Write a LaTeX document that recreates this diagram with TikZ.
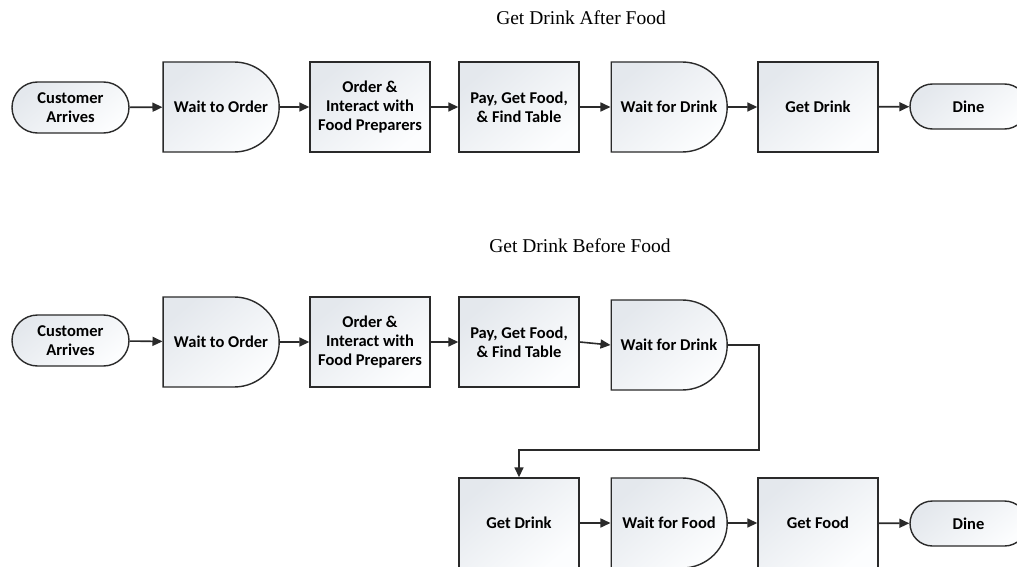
\documentclass[tikz,border=0pt]{standalone}
\usepackage{fontspec}
\setmainfont{Liberation Serif}
\newfontfamily\boxfont{Carlito}
\usepackage{tikz}
\usetikzlibrary{shapes,arrows,arrows.meta,calc}

\definecolor{linegray}{HTML}{2A2A2A}
\definecolor{fillgray}{HTML}{E4E8ED}
\definecolor{fillwhite}{HTML}{FCFDFE}

\tikzset{
  flowbox/.style={rectangle, draw=linegray, line width=1.4pt, top color=fillgray, bottom color=fillwhite, shading angle=40, minimum width=120pt, minimum height=90pt, inner sep=2pt, align=center, text=black, font=\boxfont\bfseries\fontsize{16.5}{19}\selectfont},
  waitbox/.style={flowbox, rounded rectangle, rounded rectangle left arc=none},
  endbox/.style={flowbox, rounded rectangle, minimum width=121pt, minimum height=45pt},
  flowarrow/.style={draw=linegray, line width=1.6pt, -{Triangle[length=10pt,width=9pt]}},
  titletext/.style={anchor=base, font=\fontsize{19.5}{22}\selectfont}
}

\begin{document}
\begin{tikzpicture}[x=1pt, y=-1pt]
\useasboundingbox (0,0) rectangle (1017,567);

\node [titletext] (title1) at (581,25) {Get Drink After Food};
\node [titletext] (title2) at (580,252) {Get Drink Before Food};

\node [endbox, minimum height=51pt] (arrive1) at (70.5,107.5) {Customer\\Arrives};
\node [waitbox] (waitorder1) at (221,107) {Wait to Order};
\node [flowbox] (order1) at (370,107) {Order \&\\Interact with\\Food Preparers};
\node [flowbox] (pay1) at (519,107) {Pay, Get Food,\\\& Find Table};
\node [waitbox] (waitdrink1) at (669,107) {Wait for Drink};
\node [flowbox] (drink1) at (818,107) {Get Drink};
\node [endbox] (dine1) at (968.5,106.5) {Dine};

\draw [flowarrow] (arrive1) -- (waitorder1);
\draw [flowarrow] (waitorder1) -- (order1);
\draw [flowarrow] (order1) -- (pay1);
\draw [flowarrow] (pay1) -- (waitdrink1);
\draw [flowarrow] (waitdrink1) -- (drink1);
\draw [flowarrow] (drink1) -- (dine1);

\node [endbox, minimum height=51pt] (arrive2) at (70.5,340.5) {Customer\\Arrives};
\node [waitbox] (waitorder2) at (221,342) {Wait to Order};
\node [flowbox] (order2) at (370,342) {Order \&\\Interact with\\Food Preparers};
\node [flowbox] (pay2) at (519,342) {Pay, Get Food,\\\& Find Table};
\node [waitbox] (waitdrink2) at (669,345) {Wait for Drink};

\node [flowbox] (drink2) at (519,523) {Get Drink};
\node [waitbox] (waitfood2) at (669,523) {Wait for Food};
\node [flowbox] (food2) at (818,523) {Get Food};
\node [endbox] (dine2) at (968.5,523.5) {Dine};

\coordinate (turn2) at (759,450);

\draw [flowarrow] (arrive2) -- (waitorder2);
\draw [flowarrow] (waitorder2) -- (order2);
\draw [flowarrow] (order2) -- (pay2);
\draw [flowarrow] (pay2.east) -- (waitdrink2.west);
\draw [flowarrow] (waitdrink2.east) -| (turn2) -| (drink2.north);
\draw [flowarrow] (drink2) -- (waitfood2);
\draw [flowarrow] (waitfood2) -- (food2);
\draw [flowarrow] (food2) -- (dine2);

\end{tikzpicture}
\end{document}
